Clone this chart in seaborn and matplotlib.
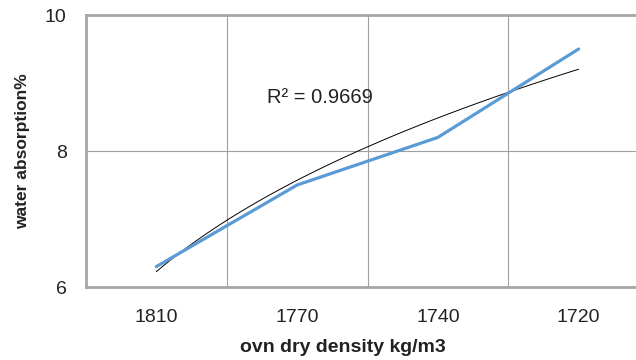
import numpy as np
import pandas as pd
import matplotlib
matplotlib.use('Agg')
import matplotlib.pyplot as plt
import seaborn as sns

# ── Data ──────────────────────────────────────────────
density = ['1810', '1770', '1740', '1720']
absorption = [6.3, 7.5, 8.2, 9.5]
r2_label = 'R² = 0.9669'

# ── Settings ──────────────────────────────────────────
sns.set_theme(style='white')
plt.rcParams['font.family'] = ['Liberation Sans', 'DejaVu Sans']

df = pd.DataFrame({'density': density, 'absorption': absorption})

fig = plt.figure(figsize=(6.36, 3.6), dpi=100)
ax = fig.add_axes([86 / 636, 1 - 287 / 360, 563 / 636, 272 / 360])

# power trendline (Excel style: ln y on ln x), x = 1..n
xi = np.arange(1, len(absorption) + 1)
b, lna = np.polyfit(np.log(xi), np.log(absorption), 1)
xs = np.linspace(1, len(absorption), 60)
ax.plot(xs - 1, np.exp(lna) * xs ** b, color='black', lw=0.7, zorder=3)

sns.lineplot(data=df, x='density', y='absorption', ax=ax, color='#5b9bd5',
             lw=2.3, sort=False, zorder=4)

ax.set_xlim(-0.5, len(density) - 0.5)
ax.set_ylim(6, 10)
ax.set_yticks([6, 8, 10])
ax.set_xticks(range(len(density)))
ax.set_xticklabels(density)
ax.set_xticks(np.arange(0.5, len(density) - 0.5), minor=True)
ax.grid(True, which='minor', axis='x', color='#a0a0a0', lw=0.8)
ax.grid(True, which='major', axis='y', color='#a0a0a0', lw=0.8)
ax.tick_params(axis='both', which='both', length=0, labelsize=14, colors='#222222')
ax.tick_params(axis='x', pad=16)
ax.tick_params(axis='y', pad=14)

for side in ['left', 'top', 'bottom']:
    ax.spines[side].set_color('#a6a6a6')
    ax.spines[side].set_linewidth(2.0)
ax.spines['right'].set_visible(False)

ax.set_xlabel('')
ax.set_ylabel('')
ax.text(1.16, 8.78, r2_label, fontsize=14.5, ha='center', va='center', color='#222222')

fig.text(343 / 636, 1 - 347 / 360, 'ovn dry density kg/m3', fontsize=14,
         fontweight='bold', ha='center', va='center', color='#222222')
fig.text(23 / 636, 1 - 151 / 360, 'water absorption%', fontsize=12.5,
         fontweight='bold', rotation=90, ha='center', va='center', color='#222222')

fig.savefig('out.png', dpi=100)
